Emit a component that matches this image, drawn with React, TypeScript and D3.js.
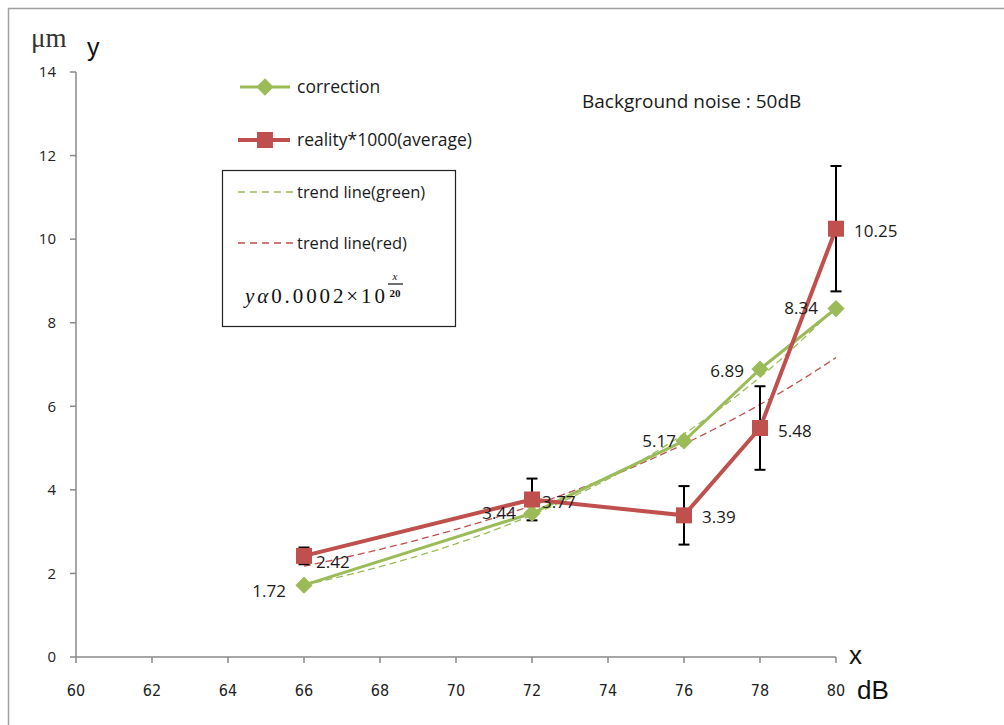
import React from 'react';
import * as d3 from 'd3';

// x values (dB)
const xs = [66, 72, 76, 78, 80];
const correction = [1.72, 3.44, 5.17, 6.89, 8.34];
const reality = [2.42, 3.77, 3.39, 5.48, 10.25];
const realityErr = [0.2, 0.5, 0.7, 1.0, 1.5];
const xTicks = [60, 62, 64, 66, 68, 70, 72, 74, 76, 78, 80];
const yTicks = [0, 2, 4, 6, 8, 10, 12, 14];

const GREEN = '#9BBB59';
const RED = '#C0504D';
const LABEL_FONT = "'Open Sans', 'Noto Sans', sans-serif";
const TICK_FONT = "'Liberation Sans Narrow', 'DejaVu Sans Condensed', sans-serif";

// exponential trend fit (like Excel): ln y = a + b x
function expFit(x: number[], y: number[]) {
  const ly = y.map(Math.log);
  const mx = d3.mean(x)!;
  const my = d3.mean(ly)!;
  const sxy = d3.sum(x, (v, i) => (v - mx) * (ly[i] - my));
  const sxx = d3.sum(x, v => (v - mx) * (v - mx));
  const b = sxy / sxx;
  const a = my - b * mx;
  return (v: number) => Math.exp(a + b * v);
}

const App = () => {
  const width = 1004, height = 725;
  const x = d3.scaleLinear().domain([60, 80]).range([76, 836]);
  const y = d3.scaleLinear().domain([0, 14]).range([657, 72]);

  const line = d3.line<[number, number]>().x(d => x(d[0])).y(d => y(d[1]));
  const corrPts = xs.map((v, i) => [v, correction[i]] as [number, number]);
  const realPts = xs.map((v, i) => [v, reality[i]] as [number, number]);

  const gFit = expFit(xs, correction);
  const rFit = expFit(xs, reality);
  const fitX = d3.range(66, 80.001, 0.25);
  const gTrend = fitX.map(v => [v, gFit(v)] as [number, number]);
  const rTrend = fitX.map(v => [v, rFit(v)] as [number, number]);

  const diamond = d3.symbol().type(d3.symbolDiamond2).size(190)();

  // label offsets: correction on left, reality on right
  const corrLabelPos: [number, number][] = [[-18, 6], [-16, 0], [-8, 0], [-16, 2], [-18, 0]];
  const realLabelPos: [number, number][] = [[12, 6], [10, 3], [18, 2], [18, 3], [18, 2]];

  return (
    <svg width={width} height={height} style={{ display: 'block', position: 'absolute', left: 0, top: 0 }}>
      <rect x={0} y={0} width={width} height={height} fill="#fff" />
      <rect x={8.5} y={8.5} width={1100} height={800} fill="none" stroke="#a0a0a0" strokeWidth={1.5} />

      {/* axes */}
      <g stroke="#888" strokeWidth={1.5}>
        <line x1={76} x2={76} y1={y(14)} y2={y(0)} />
        <line x1={x(60)} x2={x(80)} y1={657} y2={657} />
        {yTicks.map(t => <line key={'yt' + t} x1={70} x2={76} y1={y(t)} y2={y(t)} />)}
        {xTicks.map(t => <line key={'xt' + t} x1={x(t)} x2={x(t)} y1={657} y2={663} />)}
      </g>
      {yTicks.map(t => (
        <text key={'yl' + t} x={56} y={y(t)} dy="0.35em" textAnchor="end" fontFamily={LABEL_FONT} fontSize={15} fill="#222">{t}</text>
      ))}
      {xTicks.map(t => (
        <text key={'xl' + t} x={x(t)} y={690} dy="0.35em" textAnchor="middle" fontFamily={TICK_FONT} fontSize={16} fill="#222">{t}</text>
      ))}

      {/* axis titles */}
      <text x={31} y={47} fontFamily="'Liberation Serif', serif" fontSize={27} fill="#333">μm</text>
      <text x={87} y={56} fontFamily="'Liberation Sans', Arial, sans-serif" fontSize={25} fill="#111">y</text>
      <text x={849} y={664} fontFamily="'Liberation Sans', Arial, sans-serif" fontSize={26} fill="#111">x</text>
      <text x={857} y={699} fontFamily="'Liberation Sans', Arial, sans-serif" fontSize={26} fill="#111">dB</text>

      {/* trend lines */}
      <path d={line(gTrend)!} fill="none" stroke={GREEN} strokeWidth={1.3} strokeDasharray="7,4" />
      <path d={line(rTrend)!} fill="none" stroke={RED} strokeWidth={1.3} strokeDasharray="7,4" />

      {/* series lines */}
      <path d={line(corrPts)!} fill="none" stroke={GREEN} strokeWidth={3} />
      <path d={line(realPts)!} fill="none" stroke={RED} strokeWidth={4} />

      {/* error bars */}
      <g stroke="#000" strokeWidth={2}>
        {xs.map((v, i) => {
          const cx = x(v);
          const top = y(reality[i] + realityErr[i]);
          const bot = y(reality[i] - realityErr[i]);
          return (
            <g key={'eb' + i}>
              <line x1={cx} x2={cx} y1={top} y2={bot} />
              <line x1={cx - 5.5} x2={cx + 5.5} y1={top} y2={top} />
              <line x1={cx - 5.5} x2={cx + 5.5} y1={bot} y2={bot} />
            </g>
          );
        })}
      </g>

      {/* markers */}
      {corrPts.map((p, i) => (
        <path key={'gm' + i} d={diamond!} transform={`translate(${x(p[0])},${y(p[1])})`} fill={GREEN} />
      ))}
      {realPts.map((p, i) => (
        <rect key={'rm' + i} x={x(p[0]) - 8} y={y(p[1]) - 8} width={16} height={16} fill={RED} />
      ))}

      {/* data labels */}
      {corrPts.map((p, i) => (
        <text key={'gl' + i} x={x(p[0]) + corrLabelPos[i][0]} y={y(p[1]) + corrLabelPos[i][1]} dy="0.35em" textAnchor="end"
          fontFamily={LABEL_FONT} fontSize={17} fill="#1a1a1a">{correction[i].toFixed(2)}</text>
      ))}
      {realPts.map((p, i) => (
        <text key={'rl' + i} x={x(p[0]) + realLabelPos[i][0]} y={y(p[1]) + realLabelPos[i][1]} dy="0.35em" textAnchor="start"
          fontFamily={LABEL_FONT} fontSize={17} fill="#1a1a1a">{reality[i].toFixed(2)}</text>
      ))}

      {/* legend */}
      <g fontFamily={LABEL_FONT} fontSize={17.5} fill="#1a1a1a">
        <line x1={240} x2={290} y1={87} y2={87} stroke={GREEN} strokeWidth={3} />
        <path d={diamond!} transform="translate(265,87)" fill={GREEN} />
        <text x={297} y={87} dy="0.35em">correction</text>

        <line x1={238} x2={290} y1={140} y2={140} stroke={RED} strokeWidth={4} />
        <rect x={257} y={132} width={16} height={16} fill={RED} />
        <text x={297} y={140} dy="0.35em">reality*1000(average)</text>

        <rect x={222.5} y={170.5} width={233} height={156} fill="none" stroke="#222" strokeWidth={1.2} />
        <line x1={238} x2={293} y1={192} y2={192} stroke={GREEN} strokeWidth={1.3} strokeDasharray="7,5" />
        <text x={297} y={192} dy="0.35em" fontSize={16.5}>trend line(green)</text>
        <line x1={238} x2={293} y1={243} y2={243} stroke={RED} strokeWidth={1.3} strokeDasharray="7,5" />
        <text x={297} y={243} dy="0.35em" fontSize={16.5}>trend line(red)</text>

        <g fontFamily="'Liberation Serif', serif" fontSize={21} fill="#111">
          <text x={245} y={303} textLength={140} lengthAdjust="spacing">
            <tspan fontStyle="italic">y</tspan><tspan fontStyle="italic">α</tspan><tspan>0.0002×10</tspan>
          </text>
          <text x={395} y={280} fontSize={11} fontStyle="italic" textAnchor="middle">x</text>
          <line x1={388} x2={403} y1={284} y2={284} stroke="#111" strokeWidth={1.2} />
          <text x={395} y={297} fontSize={11} fontWeight="bold" textAnchor="middle">20</text>
        </g>
      </g>

      <text x={582} y={101} dy="0.35em" fontFamily={LABEL_FONT} fontSize={19} fill="#1a1a1a">Background noise : 50dB</text>
    </svg>
  );
};

export default App;
